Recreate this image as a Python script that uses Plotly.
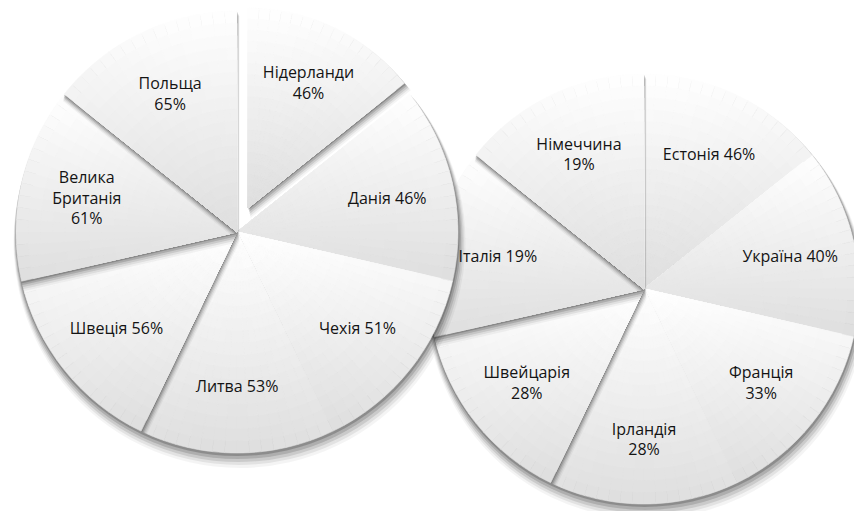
import numpy as np
import plotly.graph_objects as go

# ---------------- data ----------------
left_countries = ["Нідерланди", "Данія", "Чехія", "Литва", "Швеція", "Велика Британія", "Польща"]
left_pct = [46, 46, 51, 53, 56, 61, 65]
left_values = [1, 1, 1, 1, 1, 1, 1]
left_breaks = [True, False, False, False, False, True, True]

right_countries = ["Естонія", "Україна", "Франція", "Ірландія", "Швейцарія", "Італія", "Німеччина"]
right_pct = [46, 40, 33, 28, 28, 19, 19]
right_values = [1, 1, 1, 1, 1, 1, 1]
right_breaks = [False, False, True, True, True, False, True]

# ---------------- styling / geometry ----------------
W, H = 870, 530
FONT = "Open Sans"
TXT = "#141414"
GRAY_END = 222          # bottom colour of each slice gradient
RINGS, SUBS = 18, 16    # raster of the gradient
SHADOWS = [(0.5, 2, 1, 0.19), (1, 4, 2, 0.14), (1.5, 6, 3, 0.10),
           (2, 8, 4, 0.07), (2.5, 10, 5, 0.045)]
CLEAR = "rgba(0,0,0,0)"

LEFT = dict(cx=237, cy=232, r=221)
LEFT_EXPLODED = {0: dict(cx=248, cy=208, r=200)}
RIGHT = dict(cx=644, cy=289, r=215)


def dom(cx, cy, R):
    return dict(x=[(cx - R) / W, (cx + R) / W], y=[1 - (cy + R) / H, 1 - (cy - R) / H])


def label_text(names, pcts, breaks):
    out = []
    for n, p, b in zip(names, pcts, breaks):
        if b:
            out.append(n.replace(" ", "<br>") + "<br>" + f"{p}%")
        else:
            out.append(f"{n} {p}%")
    return out


fig = go.Figure()
common = dict(sort=False, direction="clockwise", rotation=0, hoverinfo="skip",
              textinfo="none", showlegend=False)


def add_pie(values, geom, exploded):
    tot = float(sum(values))
    cum = np.concatenate([[0], np.cumsum(values)])
    n = len(values)
    for i in range(n):
        g = exploded.get(i, geom)
        cx, cy, r = g["cx"], g["cy"], g["r"]
        pre, post = float(cum[i]), float(tot - cum[i + 1])
        # soft drop shadow of this slice
        for dx, dy, dr, a in SHADOWS:
            fig.add_trace(go.Pie(values=[pre, values[i], post],
                                 marker=dict(colors=[CLEAR, f"rgba(0,0,0,{a})", CLEAR],
                                             line=dict(width=0)),
                                 domain=dom(cx + dx, cy + dy, r + dr), **common))
        # body with vertical gradient (white top -> gray bottom)
        a0 = 2 * np.pi * cum[i] / tot
        a1 = 2 * np.pi * cum[i + 1] / tot
        th = np.linspace(a0, a1, 300)
        ys = np.concatenate([[cy], cy - r * np.cos(th)])
        ymin, ymax = ys.min(), ys.max()
        sub = [values[i] / SUBS] * SUBS
        for k in range(RINGS):
            ro = r * (RINGS - k) / RINGS
            rm = r * (RINGS - k - 0.5) / RINGS
            cols = []
            for j in range(SUBS):
                tj = a0 + (j + 0.5) * (a1 - a0) / SUBS
                y = cy - rm * np.cos(tj)
                t = (y - ymin) / (ymax - ymin)
                v = int(round(255 - (255 - GRAY_END) * t))
                cols.append(f"rgb({v},{v},{v})")
            fig.add_trace(go.Pie(values=[pre] + sub + [post],
                                 marker=dict(colors=[CLEAR] + cols + [CLEAR],
                                             line=dict(width=0.6, color=[CLEAR] + cols + [CLEAR])),
                                 domain=dom(cx, cy, ro), **common))


def add_labels(values, geom, texts):
    fig.add_trace(go.Pie(values=values, text=texts, sort=False, direction="clockwise",
                         rotation=0, hoverinfo="skip", textinfo="text",
                         textposition="inside", insidetextorientation="horizontal",
                         insidetextfont=dict(family=FONT, size=16, color=TXT),
                         marker=dict(colors=[CLEAR] * len(values), line=dict(width=0)),
                         domain=dom(geom["cx"], geom["cy"], geom["r"]), showlegend=False))


add_pie(right_values, RIGHT, {})
add_pie(left_values, LEFT, LEFT_EXPLODED)

lt = label_text(left_countries, left_pct, left_breaks)
rt = label_text(right_countries, right_pct, right_breaks)
add_labels(right_values, RIGHT, rt)
add_labels(left_values, LEFT, ["" if i in LEFT_EXPLODED else s for i, s in enumerate(lt)])
for i, g in LEFT_EXPLODED.items():
    add_labels(left_values, g, [s if j == i else "" for j, s in enumerate(lt)])

fig.update_layout(width=W, height=H, margin=dict(l=0, r=0, t=0, b=0),
                  paper_bgcolor="white", plot_bgcolor="white", showlegend=False)

fig.write_html("out.html", config={"displayModeBar": False},
               post_script="document.body.style.margin='0';"
                           "document.body.style.overflow='hidden';"
                           "document.documentElement.style.overflow='hidden';")
